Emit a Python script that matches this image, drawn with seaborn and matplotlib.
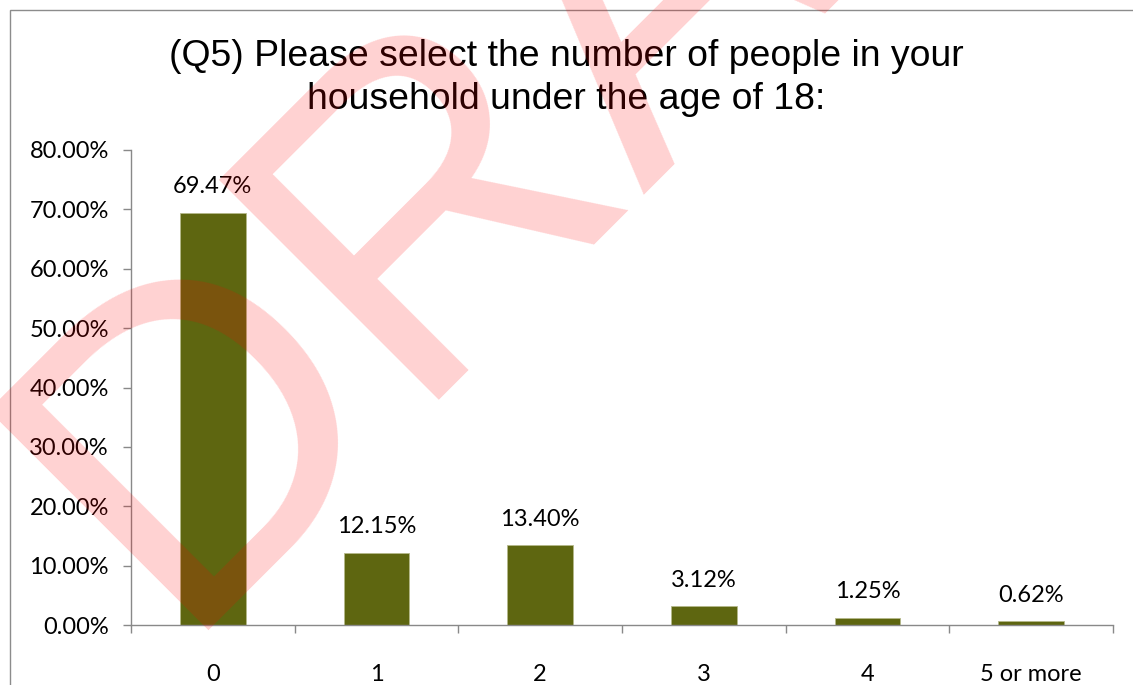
import matplotlib
matplotlib.use("Agg")
import matplotlib.pyplot as plt
import seaborn as sns
import pandas as pd
from matplotlib.patches import Rectangle
from matplotlib.ticker import FuncFormatter, FixedLocator

categories = ["0", "1", "2", "3", "4", "5 or more"]
values = [69.47, 12.15, 13.40, 3.12, 1.25, 0.62]
title = "(Q5) Please select the number of people in your\nhousehold under the age of 18:"
y_ticks = [0, 10, 20, 30, 40, 50, 60, 70, 80]

sns.set_theme(style="white")
plt.rcParams['font.family'] = ['Lato', 'DejaVu Sans']

W, H = 1133, 685
fig = plt.figure(figsize=(W / 100, H / 100), dpi=100)
ax = fig.add_axes([131 / W, 1 - 625 / H, (1113 - 131) / W, (625 - 150) / H])

df = pd.DataFrame({"cat": categories, "val": values})
sns.barplot(data=df, x="cat", y="val", color="#5E6610", saturation=1, width=0.4,
            ax=ax, edgecolor="#b5b98a", linewidth=0.6)

ax.set_xlim(-0.5, len(categories) - 0.5)
ax.set_ylim(0, 80)
ax.set_yticks(y_ticks)
ax.yaxis.set_major_formatter(FuncFormatter(lambda v, p: f"{v:.2f}%"))
ax.set_xlabel("")
ax.set_ylabel("")

for i, v in enumerate(values):
    ax.annotate(f"{v:.2f}%", (i, v), xytext=(0, 14), textcoords="offset points",
                ha="center", va="baseline", fontsize=17, color="black")

for s in ["top", "right"]:
    ax.spines[s].set_visible(False)
for s in ["left", "bottom"]:
    ax.spines[s].set_color("#898989")
    ax.spines[s].set_linewidth(1.0)

ax.tick_params(axis="y", which="major", left=True, length=6, width=1, color="#898989",
               labelsize=17, labelcolor="black", pad=10)
ax.tick_params(axis="x", which="major", bottom=False, labelsize=17, labelcolor="black", pad=22)
ax.xaxis.set_minor_locator(FixedLocator([i - 0.5 for i in range(len(categories) + 1)]))
ax.tick_params(axis="x", which="minor", bottom=True, length=6, width=1, color="#898989")

fig.text(0.5, 1 - 78 / H, title, ha="center", va="center", fontsize=26.9,
         family=["Liberation Sans", "DejaVu Sans"], color="black", linespacing=1.3)

# chart border
fig.patches.append(Rectangle((10 / W, -0.01), 1.02 - 10 / W, 1 - 10 / H + 0.01,
                             transform=fig.transFigure, fill=False,
                             edgecolor="#8c8c8c", linewidth=1.0))

# watermark
fig.text(172 / W, 1 - 630 / H, "DRAFT", rotation=45, ha="left", va="baseline",
         fontsize=325, color=(1.0, 0.0, 0.0, 0.18), family=["Liberation Sans"],
         zorder=100, rotation_mode="anchor")

fig.savefig("out.png", dpi=100)
